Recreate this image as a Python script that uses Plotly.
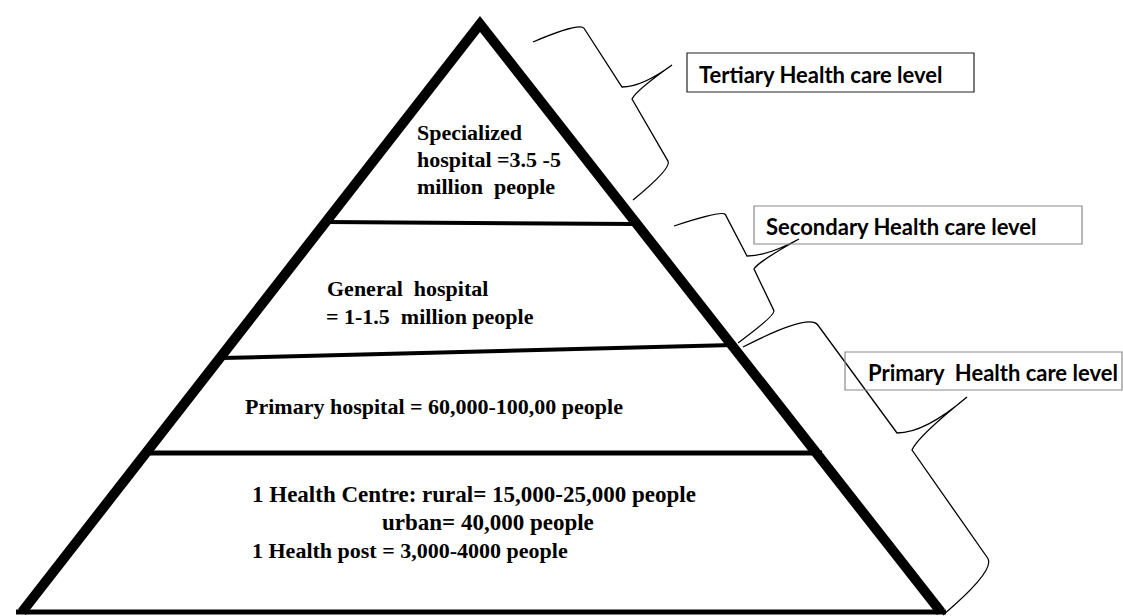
import plotly.graph_objects as go

# ---- Pyramid geometry (pixel space: x 0..1123, y 0..616 top-down) ----
apex = (480, 24)
base_left = (22, 612)
base_right = (941, 612)
tier_lines = [  # (x0, y0, x1, y1, width)
    (326, 222, 636, 224, 4),
    (222, 358, 733, 345, 4),
    (142, 453, 822, 453, 5),
    (16, 612, 946, 612, 5),
]

# ---- Pyramid texts ----
tier_texts = [
    "Specialized", "hospital =3.5 -5", "million\u00a0 people",
    "General\u00a0\u00a0hospital", "= 1-1.5\u00a0\u00a0million people",
    "Primary hospital = 60,000-100,00 people",
    "1 Health Centre: rural= 15,000-25,000 people",
    "urban= 40,000 people",
    "1 Health post = 3,000-4000 people",
]
tier_text_x = [415, 415, 415, 325, 324, 243, 250, 380, 250]
tier_text_y = [132, 159, 186, 288, 316, 406, 494, 522, 550]
tier_text_size = [22, 22, 22, 22, 22, 22, 23, 23, 22]

# ---- Level boxes ----
level_labels = ["Tertiary Health care level", "Secondary Health care level",
                "Primary\u00a0\u00a0Health care level"]
level_boxes = [(687, 53, 974, 92), (754, 206, 1082, 244), (845, 352, 1122, 390)]
level_box_colors = ["#222222", "#8a8a8a", "#8a8a8a"]
level_text_x = [697, 764, 866]
level_text_y = [74, 226, 372]

# ---- Braces: A (top end), B (top corner), C (side end), T (tip), D (side start), E (bottom corner), F (bottom end)
braces = [
    [(533, 42), (580, 22), (622, 87), (672, 65), (632, 99), (672, 168), (633, 200)],
    [(674, 226), (723, 210), (747, 256), (799, 239), (754, 269), (776, 315), (738, 343)],
    [(743, 347), (809, 313), (897, 433), (967, 397), (912, 450), (996, 570), (943, 615)],
]

fig = go.Figure()
shapes = []

# pyramid sides
shapes.append(dict(type="path", xref="x", yref="y",
                   path=f"M {base_left[0]} {base_left[1]} L {apex[0]} {apex[1]} L {base_right[0]} {base_right[1]}",
                   line=dict(color="black", width=10)))
for x0, y0, x1, y1, w in tier_lines:
    shapes.append(dict(type="line", xref="x", yref="y", x0=x0, y0=y0, x1=x1, y1=y1,
                       line=dict(color="black", width=w)))

def p(pt):
    return f"{pt[0]:.1f},{pt[1]:.1f}"

for A, B, C, T, D, E, F in braces:
    Bn = (B[0] + 0.1 * (C[0] - B[0]), B[1] + 0.1 * (C[1] - B[1]))
    c1 = (C[0] + 0.4 * (T[0] - C[0]), C[1])
    c2 = (D[0] + 0.1 * (T[0] - D[0]), D[1] - 0.25 * (D[1] - T[1]))
    En = (E[0] - 0.1 * (E[0] - D[0]), E[1] - 0.1 * (E[1] - D[1]))
    path = (f"M {p(A)} Q {p(B)} {p(Bn)} L {p(C)} Q {p(c1)} {p(T)} "
            f"Q {p(c2)} {p(D)} L {p(En)} Q {p(E)} {p(F)}")
    shapes.append(dict(type="path", xref="x", yref="y", path=path,
                       line=dict(color="black", width=1.3)))

for (x0, y0, x1, y1), col in zip(level_boxes, level_box_colors):
    shapes.append(dict(type="rect", xref="x", yref="y", x0=x0, y0=y0, x1=x1, y1=y1,
                       line=dict(color=col, width=1.2), fillcolor="rgba(0,0,0,0)"))

annotations = []
for t, x, y, s in zip(tier_texts, tier_text_x, tier_text_y, tier_text_size):
    annotations.append(dict(text=f"<b>{t}</b>", x=x, y=y, xref="x", yref="y",
                            xanchor="left", yanchor="middle", showarrow=False,
                            font=dict(family="Liberation Serif", size=s, color="black")))
for t, x, y in zip(level_labels, level_text_x, level_text_y):
    annotations.append(dict(text=f"<b>{t}</b>", x=x, y=y, xref="x", yref="y",
                            xanchor="left", yanchor="middle", showarrow=False,
                            font=dict(family="Lato", size=22, color="black")))

fig.update_layout(
    width=1123, height=616,
    margin=dict(l=0, r=0, t=0, b=0),
    paper_bgcolor="white", plot_bgcolor="white",
    xaxis=dict(range=[0, 1123], visible=False, fixedrange=True),
    yaxis=dict(range=[616, 0], visible=False, fixedrange=True),
    shapes=shapes, annotations=annotations, showlegend=False,
)

fig.write_html("out.html", config={"displayModeBar": False},
               post_script="document.body.style.margin='0';document.body.style.overflow='hidden';")
